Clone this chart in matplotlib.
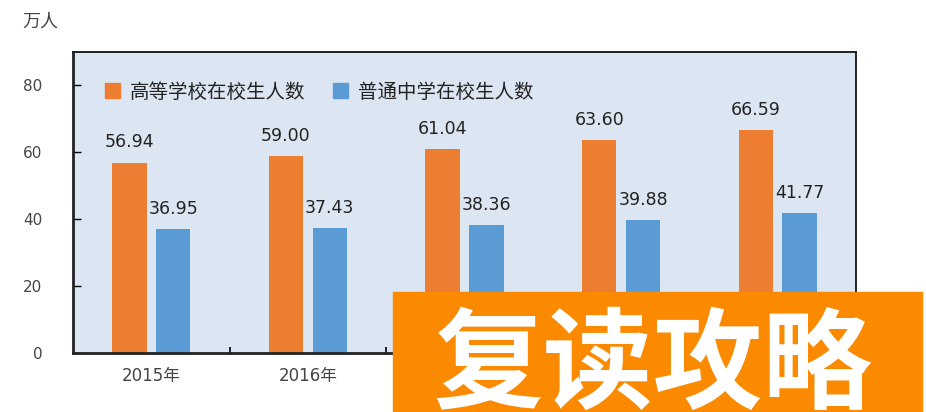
import matplotlib.pyplot as plt
import numpy as np
from matplotlib.patches import Patch, Rectangle

plt.rcParams['font.family'] = ['Noto Sans CJK SC', 'DejaVu Sans']

# data
years = ['2015年', '2016年', '2017年', '2018年', '2019年']
college = [56.94, 59.00, 61.04, 63.60, 66.59]
middle = [36.95, 37.43, 38.36, 39.88, 41.77]
series_names = ['高等学校在校生人数', '普通中学在校生人数']
yticks = [0, 20, 40, 60, 80]

orange = '#ED7D31'
blue = '#5B9BD5'
num_font = ['DejaVu Sans', 'Noto Sans CJK SC']

fig = plt.figure(figsize=(9.26, 4.12), dpi=100)
ax = fig.add_axes([73/926, 59/412, 783/926, 301/412])
ax.set_facecolor('#DCE6F2')

x = np.arange(len(years))
w = 0.22
ax.bar(x - 0.14, college, w, color=orange)
ax.bar(x + 0.14, middle, w, color=blue)

for xi, v in zip(x, college):
    ax.annotate(f'{v:.2f}', (xi - 0.14, v), xytext=(0, 8), textcoords='offset points',
                ha='center', va='bottom', fontsize=12.5, color='#222222', family=num_font)
for xi, v in zip(x, middle):
    ax.annotate(f'{v:.2f}', (xi + 0.14, v), xytext=(0, 8), textcoords='offset points',
                ha='center', va='bottom', fontsize=12.5, color='#222222', family=num_font)

ax.set_xlim(-0.5, len(years) - 0.5)
ax.set_ylim(0, 90)
ax.set_yticks(yticks)
ax.set_yticklabels([str(t) for t in yticks], family=num_font)
ax.set_xticks(x)
ax.set_xticklabels(years, family=num_font)
ax.set_xticks(x[:-1] + 0.5, minor=True)
ax.tick_params(axis='x', which='major', length=0, pad=10, labelsize=12, labelcolor='#444444')
ax.tick_params(axis='x', which='minor', direction='in', length=4, width=1.2)
ax.tick_params(axis='y', direction='in', length=6, width=1, pad=22, labelsize=11, labelcolor='#444444')

for s in ax.spines.values():
    s.set_color('#222222')
    s.set_linewidth(1.4)
ax.spines['left'].set_linewidth(2)
ax.spines['bottom'].set_linewidth(2)

handles = [Patch(color=orange), Patch(color=blue)]
ax.legend(handles, series_names, loc='upper left', ncol=2, frameon=False,
          bbox_to_anchor=(0.018, 0.96), handlelength=0.8, handleheight=0.8,
          handletextpad=0.5, columnspacing=1.4, fontsize=14, labelcolor='#222222')

fig.text(22/926, 1 - 22/412, '万人', fontsize=13, color='#444444', va='center', ha='left')

# watermark overlay
fig.patches.append(Rectangle((393/926, 0), (922-393)/926, (412-292)/412,
                             transform=fig.transFigure, color='#FB8A00', zorder=5))
fig.text(653/926, (412-368)/412, '复读攻略', fontsize=79, fontweight='bold',
         color='white', ha='center', va='center', zorder=6)

fig.savefig('out.png', dpi=100)
